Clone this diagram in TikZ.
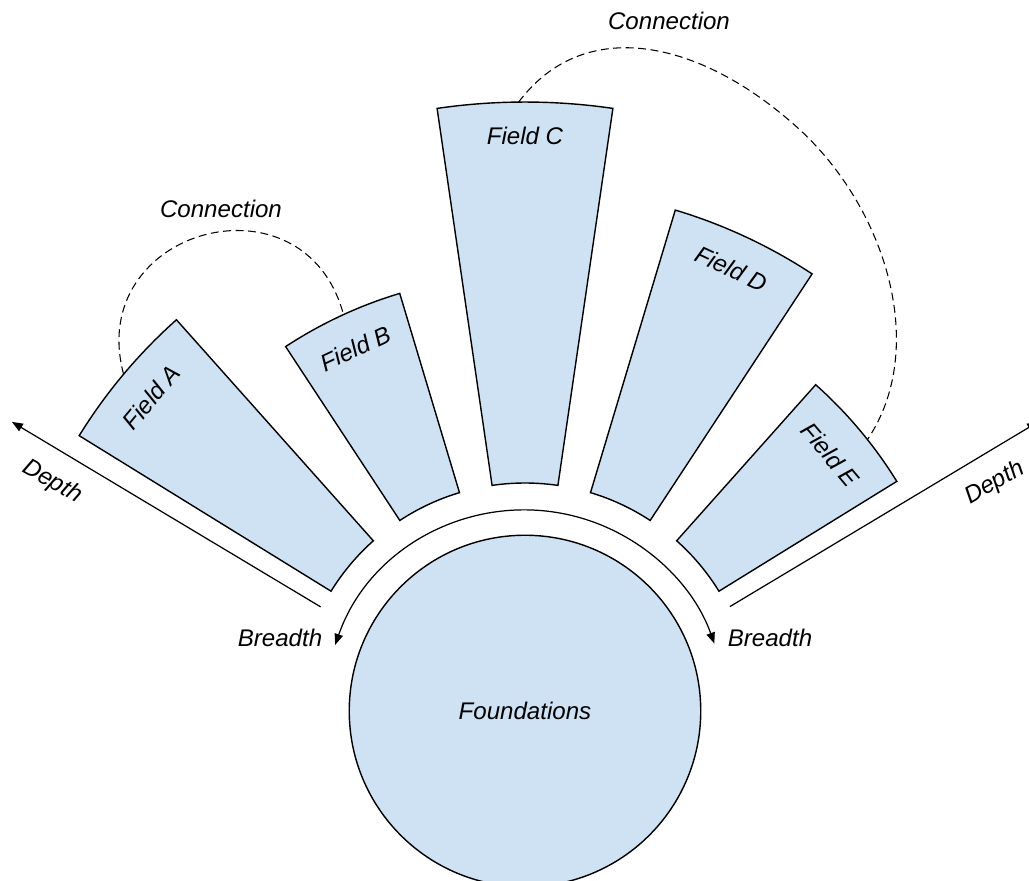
\documentclass[tikz,border=0pt]{standalone}
\usepackage{fontspec}
\setmainfont{Liberation Sans}
\usepackage{xcolor}
\usepackage{tikz}
\usetikzlibrary{arrows.meta}

\definecolor{fieldblue}{HTML}{CFE2F3}

\begin{document}
\begin{tikzpicture}[x=0.2mm,y=0.2mm,
   field/.style={draw=black,fill=fieldblue,line width=0.8pt,line join=miter},
   found/.style={circle,draw=black,fill=fieldblue,line width=0.8pt,inner sep=0pt,minimum size=70.3mm},
   txt/.style={font=\fontsize{13.7}{16}\selectfont\itshape,inner sep=0pt},
   link/.style={draw=black,line width=0.6pt,dash pattern=on 4.5pt off 2.6pt},
   axis/.style={draw=black,line width=0.7pt,-{Triangle[length=2.2mm,width=1.7mm]}},
   breadth/.style={draw=black,line width=0.7pt,{Triangle[length=2.2mm,width=1.7mm]}-{Triangle[length=2.2mm,width=1.7mm]}}]
   \useasboundingbox (-525,-169) rectangle (504,711);

   \node[found](found) at (0,0) {};
   \node[txt](foundlabel) at (0,0) {Foundations};

   \draw[field] (131.7:228) -- (131.7:524) arc[start angle=131.7,end angle=148.3,radius=524] -- (148.3:228) arc[start angle=148.3,end angle=131.7,radius=228] -- cycle;
   \draw[field] (106.7:228) -- (106.7:436) arc[start angle=106.7,end angle=123.3,radius=436] -- (123.3:228) arc[start angle=123.3,end angle=106.7,radius=228] -- cycle;
   \draw[field] (81.7:228) -- (81.7:609) arc[start angle=81.7,end angle=98.3,radius=609] -- (98.3:228) arc[start angle=98.3,end angle=81.7,radius=228] -- cycle;
   \draw[field] (56.7:228) -- (56.7:523) arc[start angle=56.7,end angle=73.3,radius=523] -- (73.3:228) arc[start angle=73.3,end angle=56.7,radius=228] -- cycle;
   \draw[field] (31.7:228) -- (31.7:437) arc[start angle=31.7,end angle=48.3,radius=437] -- (48.3:228) arc[start angle=48.3,end angle=31.7,radius=228] -- cycle;

   \node[txt,rotate=50](fielda) at (140:488) {Field A};
   \node[txt,rotate=25](fieldb) at (115:400) {Field B};
   \node[txt](fieldc) at (90:575) {Field C};
   \node[txt,rotate=-25](fieldd) at (65:488) {Field D};
   \node[txt,rotate=-50](fielde) at (40:399) {Field E};

   \coordinate (atop) at (140:524);
   \coordinate (btop) at (114.6:436);
   \coordinate (ctop) at (90.6:609);
   \coordinate (cbend) at (65:644);
   \coordinate (etop) at (38.4:437);

   \draw[link] (atop) to[out=105,in=105,looseness=1.7] (btop);
   \draw[link] (ctop) to[out=53,in=138,out distance=22mm,in distance=26mm] (cbend)
      to[out=-42,in=56,out distance=24mm,in distance=22mm] (etop);
   \node[txt](conab) at (-304,502) {Connection};
   \node[txt](conce) at (144,690) {Connection};

   \coordinate (bleft) at (160.8:201);
   \coordinate (bright) at (19.6:201);
   \draw[breadth] (bleft) arc[start angle=160.8,end angle=19.6,radius=201];
   \node[txt](lbreadth) at (-245,73) {Breadth};
   \node[txt](rbreadth) at (245,73) {Breadth};

   \coordinate (ldepth0) at (153:229.4);
   \coordinate (ldepth1) at (150.6:589);
   \coordinate (rdepth0) at (27:230);
   \coordinate (rdepth1) at (29.4:589);
   \draw[axis] (ldepth0) -- (ldepth1);
   \draw[axis] (rdepth0) -- (rdepth1);
   \node[txt,rotate=-30](ldepth) at (-473,229) {Depth};
   \node[txt,rotate=30](rdepth) at (470,228) {Depth};

\end{tikzpicture}
\end{document}
